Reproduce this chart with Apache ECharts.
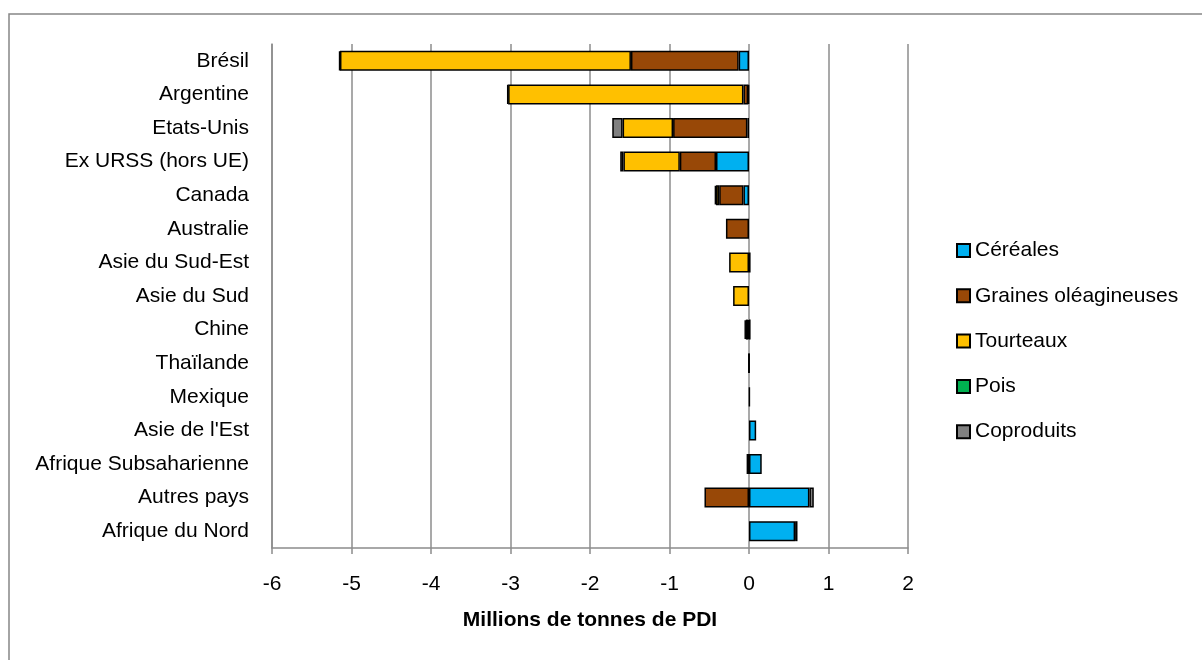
<!DOCTYPE html>
<html>
<head>
<meta charset="utf-8">
<script src="https://cdn.jsdelivr.net/npm/echarts@6/dist/echarts.min.js"></script>
<style>
html,body{margin:0;padding:0;background:#fff;}
#c{width:1202px;height:660px;}
</style>
</head>
<body>
<div id="c"></div>
<script>
var categories = ['Brésil','Argentine','Etats-Unis','Ex URSS (hors UE)','Canada','Australie','Asie du Sud-Est','Asie du Sud','Chine','Thaïlande','Mexique',"Asie de l'Est",'Afrique Subsaharienne','Autres pays','Afrique du Nord'];
var cereales   = [-0.13, -0.01, -0.02, -0.415, -0.07, 0, 0.02, 0, 0.02, 0.005, 0.01, 0.09, 0.16, 0.76, 0.58];
var graines    = [-1.355, -0.06, -0.935, -0.455, -0.305, -0.29, 0, 0, -0.01, 0, 0, 0, -0.03, -0.56, 0.03];
var tourteaux  = [-3.66, -2.96, -0.635, -0.71, -0.04, 0, -0.25, -0.2, -0.03, 0, 0, 0, 0, 0, 0];
var pois       = [0, 0, 0, 0, 0, 0, 0, 0, 0, 0, 0, 0, 0, 0, 0];
var coproduits = [-0.01, -0.01, -0.13, -0.04, -0.015, 0, 0, 0, -0.015, -0.005, 0, 0, 0, 0.055, 0];
var xTicks = [-6, -5, -4, -3, -2, -1, 0, 1, 2];

var seriesDefs = [
  {name:'Céréales', data:cereales, color:'#00B0F0'},
  {name:'Graines oléagineuses', data:graines, color:'#984807'},
  {name:'Tourteaux', data:tourteaux, color:'#FFC000'},
  {name:'Pois', data:pois, color:'#00B050'},
  {name:'Coproduits', data:coproduits, color:'#808080'}
];

var FONT = '"Liberation Sans", Arial, sans-serif';
var chart = echarts.init(document.getElementById('c'), null, {renderer:'canvas'});
chart.setOption({
  animation:false,
  backgroundColor:'#fff',
  textStyle:{fontFamily:FONT, color:'#000'},
  graphic:[{
    type:'rect', silent:true, z:-10,
    shape:{x:9, y:14, width:1400, height:900},
    style:{fill:'none', stroke:'#868686', lineWidth:1.5}
  }],
  grid:{left:272, right:294, top:44, bottom:112, containLabel:false},
  legend:{
    orient:'vertical', left:956, top:240, padding:0,
    itemWidth:13, itemHeight:13, itemGap:24.3, itemTextGap:9,
    icon:'rect',
    textStyle:{fontFamily:FONT, fontSize:21, color:'#000'},
    data:seriesDefs.map(function(s){return s.name;})
  },
  xAxis:{
    type:'value', min:xTicks[0], max:xTicks[xTicks.length-1], interval:1,
    name:'Millions de tonnes de PDI', nameLocation:'middle', nameGap:62,
    nameTextStyle:{fontFamily:FONT, fontSize:21, fontWeight:'bold', color:'#000'},
    axisLine:{show:true, lineStyle:{color:'#8c8c8c', width:1.5}},
    axisTick:{show:true, length:6, lineStyle:{color:'#8c8c8c', width:1.5}},
    axisLabel:{fontFamily:FONT, fontSize:21, color:'#000', margin:26},
    splitLine:{show:true, lineStyle:{color:'#8c8c8c', width:1.5}}
  },
  yAxis:{
    type:'category', data:categories, inverse:true,
    axisLine:{show:true, onZero:false, lineStyle:{color:'#8c8c8c', width:1.5}},
    axisTick:{show:false},
    axisLabel:{fontFamily:FONT, fontSize:21, color:'#000', margin:23},
    splitLine:{show:false}
  },
  series:seriesDefs.map(function(s){
    return {
      name:s.name, type:'bar', stack:'total', stackStrategy:'samesign',
      barWidth:20,
      itemStyle:{color:s.color, borderColor:'#000', borderWidth:1.5},
      data:s.data.map(function(v){return v === 0 ? '-' : v;})
    };
  })
});
</script>
</body>
</html>
